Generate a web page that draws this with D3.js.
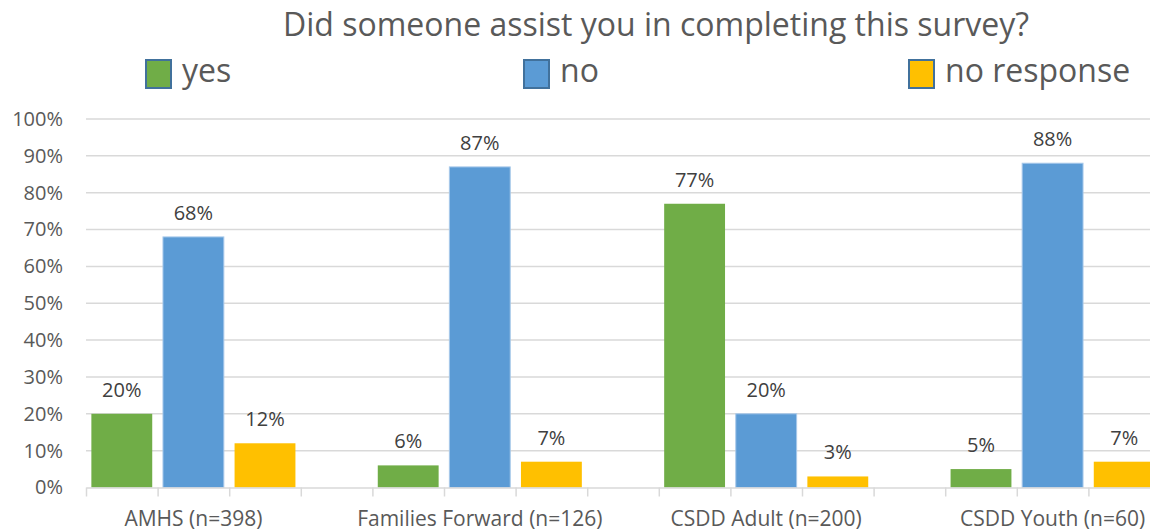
<!DOCTYPE html>
<html>
<head>
<meta charset="utf-8">
<script src="https://cdn.jsdelivr.net/npm/d3@7"></script>
<style>
  html, body { margin: 0; padding: 0; background: #ffffff; }
  svg { display: block; font-family: "Open Sans", "Noto Sans", sans-serif; }
</style>
</head>
<body>
<svg id="chart" width="1150" height="531"></svg>
<script>
// Survey groups and their respondent counts
const categories = ["AMHS (n=398)", "Families Forward (n=126)", "CSDD Adult (n=200)", "CSDD Youth (n=60)"];
const seriesNames = ["yes", "no", "no response"];
// Percent of respondents per answer, one array per series (same order as categories)
const yesValues = [20, 6, 77, 5];
const noValues = [68, 87, 20, 88];
const noResponseValues = [12, 7, 3, 7];
const yTicks = [0, 10, 20, 30, 40, 50, 60, 70, 80, 90, 100];
const titleText = "Did someone assist you in completing this survey?";

const seriesValues = [yesValues, noValues, noResponseValues];
const colors = ["#70ad47", "#5b9bd5", "#ffc000"];

const svg = d3.select("#chart");

// Each group occupies four slots on the category axis: three bars and one empty slot
const slotsPerGroup = 4;
const slotCount = categories.length * slotsPerGroup;
const plotLeft = 86, plotRight = 86 + slotCount * 71.6;
const plotTop = 119, plotBottom = 487.5;

const slots = d3.range(slotCount);
const x = d3.scaleBand().domain(slots).range([plotLeft, plotRight])
  .paddingInner(0.15).paddingOuter(0.075);
const slotEdge = d3.scaleLinear().domain([0, slotCount]).range([plotLeft, plotRight]);
const y = d3.scaleLinear().domain([0, 100]).range([plotBottom, plotTop]);

// Horizontal gridlines
svg.append("g")
  .selectAll("line")
  .data(yTicks.filter(d => d > 0))
  .join("line")
  .attr("x1", plotLeft).attr("x2", plotRight)
  .attr("y1", d => y(d)).attr("y2", d => y(d))
  .attr("stroke", "#d9d9d9").attr("stroke-width", 1.5);

// Y axis labels
const yAxis = d3.axisLeft(y).tickValues(yTicks).tickFormat(d => d + "%").tickSize(0).tickPadding(23);
const yG = svg.append("g").attr("transform", `translate(${plotLeft},0)`).call(yAxis);
yG.select(".domain").remove();
yG.selectAll("text").attr("fill", "#595959").attr("font-size", 20)
  .attr("font-family", "'Open Sans', sans-serif");

// Bars
const barData = [];
categories.forEach((c, gi) => {
  seriesValues.forEach((vals, si) => {
    barData.push({ group: gi, series: si, slot: gi * slotsPerGroup + si, value: vals[gi] });
  });
});

svg.append("g")
  .selectAll("rect")
  .data(barData)
  .join("rect")
  .attr("x", d => x(d.slot))
  .attr("width", x.bandwidth())
  .attr("y", d => y(d.value))
  .attr("height", d => y(0) - y(d.value))
  .attr("fill", d => colors[d.series])
  .attr("stroke", d => d.series === 1 ? "#a7c8ea" : "none")
  .attr("stroke-width", 1);

// Value labels above the bars
svg.append("g")
  .selectAll("text")
  .data(barData)
  .join("text")
  .attr("x", d => x(d.slot) + x.bandwidth() / 2)
  .attr("y", d => y(d.value) - 17)
  .attr("text-anchor", "middle")
  .attr("font-size", 20)
  .attr("fill", "#404040")
  .text(d => d.value + "%");

// Category axis: baseline and tick marks at slot boundaries
const xAxis = d3.axisBottom(slotEdge).tickValues(d3.range(slotCount + 1)).tickFormat("").tickSize(9).tickSizeOuter(0);
const xG = svg.append("g").attr("transform", `translate(0,${plotBottom})`).call(xAxis);
xG.select(".domain").attr("stroke", "#d9d9d9").attr("stroke-width", 1.5);
xG.selectAll(".tick line").attr("stroke", "#d9d9d9").attr("stroke-width", 1.5);

// Category labels centered under the middle bar of each group
svg.append("g")
  .selectAll("text")
  .data(categories)
  .join("text")
  .attr("x", (d, i) => x(i * slotsPerGroup + 1) + x.bandwidth() / 2)
  .attr("y", 526)
  .attr("text-anchor", "middle")
  .attr("font-size", 21)
  .attr("fill", "#595959")
  .text(d => d);

// Title
svg.append("text")
  .attr("x", 656)
  .attr("y", 36)
  .attr("text-anchor", "middle")
  .attr("font-size", 32)
  .attr("fill", "#595959")
  .text(titleText);

// Legend
const legendX = [146, 524, 909];
const legend = svg.append("g")
  .selectAll("g")
  .data(seriesNames)
  .join("g")
  .attr("transform", (d, i) => `translate(${legendX[i]},0)`);
legend.append("rect")
  .attr("x", 0).attr("y", 60).attr("width", 25).attr("height", 28)
  .attr("fill", (d, i) => colors[i])
  .attr("stroke", "#41719c").attr("stroke-width", 2);
legend.append("text")
  .attr("x", 36).attr("y", 82)
  .attr("font-size", 32)
  .attr("fill", "#595959")
  .text(d => d);
</script>
</body>
</html>
